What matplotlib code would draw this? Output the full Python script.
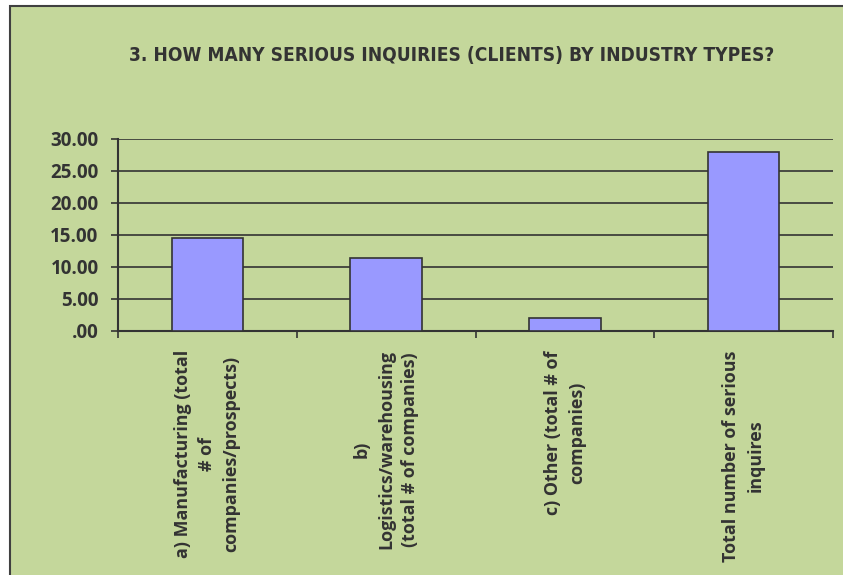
import matplotlib
matplotlib.use("Agg")
import matplotlib.pyplot as plt
from matplotlib.patches import Rectangle
from matplotlib.ticker import FuncFormatter, MultipleLocator

# data
categories = [
    "a) Manufacturing (total\n# of\ncompanies/prospects)",
    "b)\nLogistics/warehousing\n(total # of companies)",
    "c) Other (total # of\ncompanies)",
    "Total number of serious\ninquires",
]
values = [14.5, 11.4, 2.0, 28.0]
title = "3. HOW MANY SERIOUS INQUIRIES (CLIENTS) BY INDUSTRY TYPES?"

green = "#C4D79B"
bar_col = "#9999FF"
dark = "#333333"

fig = plt.figure(figsize=(8.43, 5.75), dpi=100, facecolor="white")

# chart area background with border on the left and top
fig.patches.append(Rectangle((10 / 843, -0.1), 1.2, (575 - 6) / 575 + 0.1,
                             transform=fig.transFigure, facecolor=green,
                             edgecolor="#404040", linewidth=1.5, zorder=-5))

ax = fig.add_axes([118 / 843, (575 - 331) / 575, (833 - 118) / 843, (331 - 139) / 575])
ax.set_zorder(2)
ax.patch.set_alpha(0)

x = list(range(len(values)))
ax.bar(x, values, width=0.4, color=bar_col, edgecolor=dark, linewidth=1.2, zorder=3)

ax.set_xlim(-0.5, len(values) - 0.5)
ax.set_ylim(0, 30)
ax.yaxis.set_major_locator(MultipleLocator(5))


def fmt(v, pos):
    s = f"{v:.2f}"
    return s[1:] if s.startswith("0") else s


ax.yaxis.set_major_formatter(FuncFormatter(fmt))
ax.grid(axis="y", color=dark, linewidth=1.2, zorder=1)
ax.set_axisbelow(True)

for s in ["top", "right"]:
    ax.spines[s].set_visible(False)
for s in ["left", "bottom"]:
    ax.spines[s].set_color(dark)
    ax.spines[s].set_linewidth(1.5)

ax.tick_params(axis="y", length=5, width=1.2, color=dark, pad=9,
               labelsize=13.5, labelcolor=dark)
for lab in ax.get_yticklabels():
    lab.set_fontweight("bold")
    lab.set_family("Open Sans")

ax.set_xticks(x)
ax.set_xticklabels([])
ax.tick_params(axis="x", which="major", length=0)
ax.set_xticks([i - 0.5 for i in range(len(values) + 1)], minor=True)
ax.tick_params(axis="x", which="minor", length=5, width=1.2, color=dark)

for i, c in enumerate(categories):
    ax.text(i, -0.1, c, transform=ax.get_xaxis_transform(), rotation=90,
            ha="center", va="top", multialignment="center",
            fontsize=12.9, fontweight="bold", family="Open Sans", color=dark,
            linespacing=1.45)

fig.text(452 / 843, 1 - 55 / 575, title, ha="center", va="center",
         fontsize=13.7, fontweight="bold", family="DejaVu Sans",
         fontstretch="condensed", color=dark)

fig.savefig("out.png", dpi=100, facecolor="white")
